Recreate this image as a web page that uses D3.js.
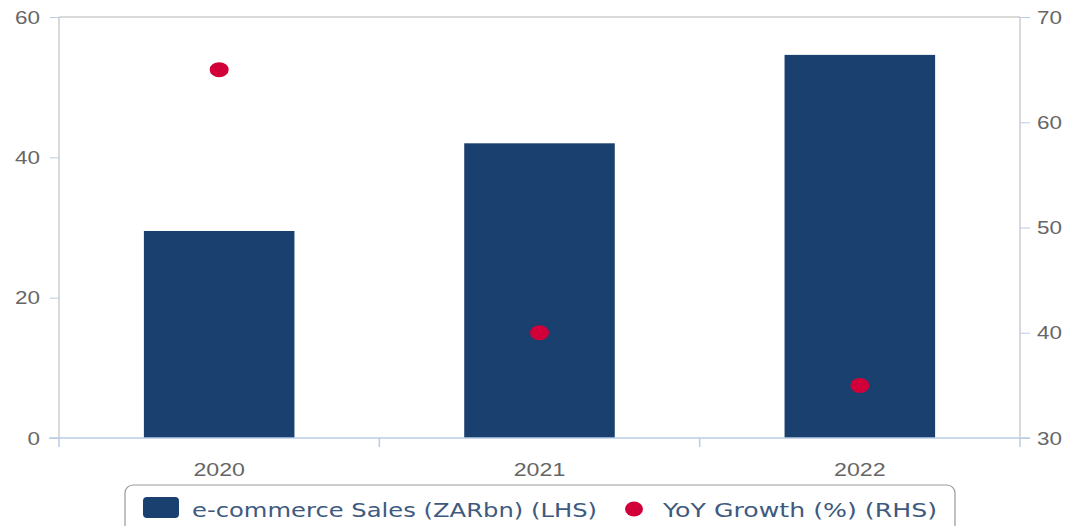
<!DOCTYPE html>
<html lang="en">
<head>
<meta charset="UTF-8">
<title>e-commerce Sales</title>
<script src="https://d3js.org/d3.v7.min.js"></script>
<style>
    body{ margin:0; background:#fff; font-family:"DejaVu Sans", sans-serif; }
    .tick text{ fill:#666; font-size:19px; }
</style>
</head>
<body>
<svg width="1070" height="526"></svg>
<script>
    const years = ["2020", "2021", "2022"];
    const sales = [29.5, 42.0, 54.6];
    const growth = [65.0, 40.0, 35.0];
    const leftTicks = [0, 20, 40, 60];
    const rightTicks = [30, 40, 50, 60, 70];

    const svg = d3.select("svg");
    const pLeft = 59, pRight = 1020, pTop = 17, pBottom = 438;

    // the source text is drawn a bit wide, so stretch it horizontally
    function stretch(sel, k) {
        sel.each(function () {
            const w = this.getComputedTextLength();
            d3.select(this).attr("textLength", w * k).attr("lengthAdjust", "spacingAndGlyphs");
        });
    }

    const x = d3.scaleBand().domain(years).range([pLeft, pRight]).paddingInner(0).paddingOuter(0);
    const yL = d3.scaleLinear().domain([0, 60]).range([pBottom, pTop]);
    const yR = d3.scaleLinear().domain([30, 70]).range([pBottom, pTop]);

    // frame lines
    svg.append("line").attr("x1", pLeft).attr("x2", pRight).attr("y1", pTop).attr("y2", pTop)
        .attr("stroke", "#ccc").attr("stroke-width", 1.5);
    svg.append("line").attr("x1", pLeft).attr("x2", pLeft).attr("y1", pTop).attr("y2", pBottom)
        .attr("stroke", "#ccc").attr("stroke-width", 1.5);
    svg.append("line").attr("x1", pRight).attr("x2", pRight).attr("y1", pTop).attr("y2", pBottom)
        .attr("stroke", "#ccc").attr("stroke-width", 1.5);

    // left axis
    const gl = svg.append("g").attr("transform", `translate(${pLeft},0)`)
        .call(d3.axisLeft(yL).tickValues(leftTicks).tickSize(9).tickPadding(10));
    gl.select(".domain").remove();
    gl.selectAll(".tick line").attr("stroke", "#b8cce4");
    stretch(gl.selectAll(".tick text"), 1.18);

    // right axis
    const gr = svg.append("g").attr("transform", `translate(${pRight},0)`)
        .call(d3.axisRight(yR).tickValues(rightTicks).tickSize(10).tickPadding(7));
    gr.select(".domain").remove();
    gr.selectAll(".tick line").attr("stroke", "#b8cce4");
    stretch(gr.selectAll(".tick text"), 1.18);

    // bars
    svg.selectAll(".bar").data(years).enter().append("rect")
        .attr("class", "bar")
        .attr("x", d => x(d) + x.bandwidth() * 0.265)
        .attr("width", x.bandwidth() * 0.47)
        .attr("y", (d, i) => yL(sales[i]))
        .attr("height", (d, i) => pBottom - yL(sales[i]))
        .attr("fill", "#1a4070");

    // bottom axis
    const gx = svg.append("g").attr("transform", `translate(0,${pBottom})`)
        .call(d3.axisBottom(x).tickSize(0).tickPadding(25));
    gx.select(".domain").attr("stroke", "#b8cce4").attr("stroke-width", 1.5)
        .attr("d", `M${pLeft - 10},0H${pRight + 10}`);
    stretch(gx.selectAll(".tick text"), 1.22);
    svg.selectAll(".bound").data(d3.range(years.length + 1)).enter().append("line")
        .attr("x1", i => pLeft + i * x.step()).attr("x2", i => pLeft + i * x.step())
        .attr("y1", pBottom).attr("y2", pBottom + 9)
        .attr("stroke", "#b8cce4").attr("stroke-width", 1.5);

    // dots
    svg.selectAll(".dot").data(years).enter().append("ellipse")
        .attr("cx", d => x(d) + x.bandwidth() / 2)
        .attr("cy", (d, i) => yR(growth[i]))
        .attr("rx", 9.5).attr("ry", 7.5)
        .attr("fill", "#d10038");

    // legend
    const lg = svg.append("g");
    lg.append("rect").attr("x", 125).attr("y", 485).attr("width", 830).attr("height", 60)
        .attr("rx", 8).attr("fill", "#fff").attr("stroke", "#999").attr("stroke-width", 1.2);
    lg.append("rect").attr("x", 143).attr("y", 497).attr("width", 36).attr("height", 21)
        .attr("rx", 4).attr("fill", "#1a4070");
    lg.append("text").attr("x", 192).attr("y", 517).text("e-commerce Sales (ZARbn) (LHS)")
        .attr("fill", "#3e5a7e").style("font-size", "19px")
        .attr("textLength", 405).attr("lengthAdjust", "spacingAndGlyphs");
    lg.append("ellipse").attr("cx", 634).attr("cy", 509).attr("rx", 9).attr("ry", 7.5).attr("fill", "#d10038");
    lg.append("text").attr("x", 663).attr("y", 517).text("YoY Growth (%) (RHS)")
        .attr("fill", "#3e5a7e").style("font-size", "19px")
        .attr("textLength", 274).attr("lengthAdjust", "spacingAndGlyphs");
</script>
</body>
</html>
